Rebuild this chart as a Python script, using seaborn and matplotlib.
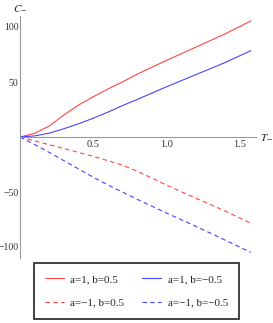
import numpy as np
import pandas as pd
import matplotlib
matplotlib.use('Agg')
import matplotlib.pyplot as plt
from matplotlib.ticker import FixedLocator
import seaborn as sns

# values
T = [0, 0.1, 0.2, 0.3, 0.4, 0.5, 0.6, 0.7, 0.8, 1.0, 1.2, 1.4, 1.58]
c_a1_bp = [0, 3.3, 10, 20, 29, 36.5, 43.5, 50, 57, 69.5, 81.5, 93.5, 105.5]
c_a1_bm = [0, 1, 3.5, 7.5, 12, 17, 22.5, 28.5, 34, 45.5, 56.5, 67.5, 78.5]
c_am1_bp = [0, -3.5, -7, -10.5, -14, -17.5, -21.5, -25.5, -31, -43.5, -55.5, -67, -78.5]
c_am1_bm = [0, -6.8, -14, -21.5, -29, -36.5, -43.5, -50, -56.5, -69, -81, -93.5, -105]
labels = ['a=1, b=0.5', 'a=1, b=\u22120.5', 'a=\u22121, b=0.5', 'a=\u22121, b=\u22120.5']

sns.set_style('white')
plt.rcParams['font.family'] = ['Liberation Serif', 'DejaVu Serif']
plt.rcParams['mathtext.fontset'] = 'stix'

fig = plt.figure(figsize=(2.73, 3.23), dpi=100)
ax = fig.add_axes([20 / 273, 1 - 258 / 323, 236 / 273, 242 / 323])

red = '#ff4545'
blue = '#4545ff'
series = [(c_a1_bp, red, '-'), (c_a1_bm, blue, '-'),
          (c_am1_bp, red, (0, (4, 3))), (c_am1_bm, blue, (0, (4, 3)))]
handles = []
for vals, col, ls in series:
    df = pd.DataFrame({'T': T, 'C': vals})
    sns.lineplot(data=df, x='T', y='C', ax=ax, color=col, lw=0.8, linestyle=ls)
    handles.append(ax.lines[-1])

ax.set_xlim(0, 1.615)
ax.set_ylim(-110, 110)
ax.set_xlabel('')
ax.set_ylabel('')

for s in ['top', 'right']:
    ax.spines[s].set_visible(False)
ax.spines['bottom'].set_position(('data', 0))
ax.spines['left'].set_position(('data', 0))
for s in ['bottom', 'left']:
    ax.spines[s].set_color('#999999')
    ax.spines[s].set_linewidth(0.8)

ax.xaxis.set_major_locator(FixedLocator([0.5, 1.0, 1.5]))
ax.xaxis.set_minor_locator(FixedLocator([0.1 * i for i in range(1, 17) if i % 5]))
ax.yaxis.set_major_locator(FixedLocator([-100, -50, 50, 100]))
ax.yaxis.set_minor_locator(FixedLocator([10 * i for i in range(-11, 12) if i % 5]))
ax.set_xticklabels(['0.5', '1.0', '1.5'])
ax.tick_params(which='both', direction='in', color='#999999', width=0.6,
               labelsize=7.5, labelcolor='#333333')
ax.tick_params(which='major', length=4, pad=2)
ax.tick_params(which='minor', length=2)
ax.tick_params(axis='y', labelsize=7, pad=1)

ax.text(1.64, 0, r'$T_{-}$', fontsize=8, va='center', ha='left', clip_on=False)
ax.text(0, 113, r'$C_{-}$', fontsize=8, va='bottom', ha='center', clip_on=False)

order = [0, 2, 1, 3]
leg = fig.legend([handles[i] for i in order], [labels[i] for i in order],
                 loc='center', bbox_to_anchor=(0.5, 1 - 291 / 323), ncol=2,
                 fontsize=8, frameon=True, fancybox=False, handlelength=1.7,
                 handletextpad=0.6, columnspacing=1.6, labelspacing=1.2,
                 borderpad=1.0, borderaxespad=0)
leg.get_frame().set_edgecolor('black')
leg.get_frame().set_linewidth(1.3)

fig.savefig('out.png', dpi=100)
